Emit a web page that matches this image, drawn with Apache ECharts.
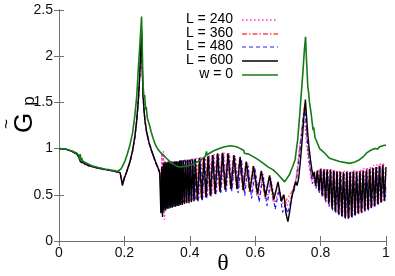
<!DOCTYPE html>
<html>
<head>
<meta charset="utf-8">
<script src="https://cdn.jsdelivr.net/npm/echarts@6/dist/echarts.min.js"></script>
<style>
  html, body { margin: 0; padding: 0; background: #fff; }
  #chart { width: 395px; height: 276px; }
</style>
</head>
<body>
<div id="chart"></div>
<script>
// G_p versus theta as [theta, G] pairs
const l240 = [[0,1.0],[0.02,0.993],[0.04,0.968],[0.055,0.935],[0.062,0.895],[0.065,0.855],[0.068,0.87],[0.072,0.84],[0.08,0.825],[0.09,0.81],[0.1,0.8],[0.12,0.785],[0.14,0.77],[0.16,0.758],[0.18,0.744],[0.187,0.736],[0.191,0.68],[0.194,0.63],[0.2,0.69],[0.208,0.765],[0.217,0.86],[0.225,0.98],[0.232,1.13],[0.238,1.32],[0.243,1.55],[0.247,1.8],[0.2505,2.1],[0.2525,2.2],[0.2545,1.87],[0.257,1.6],[0.26,1.43],[0.263,1.31],[0.268,1.18],[0.275,1.07],[0.282,0.99],[0.288,0.92],[0.295,0.86],[0.303,0.8],[0.309,0.76],[0.312,0.4],
  [0.3145,0.95],[0.317,0.3],[0.3195,0.97],[0.3225,0.23],[0.3255,0.86],[0.3285,0.34],[0.3315,0.86],[0.3345,0.35],[0.3375,0.86],[0.3405,0.36],[0.3435,0.86],[0.3465,0.37],[0.3495,0.86],[0.3525,0.37],[0.3555,0.86],[0.3585,0.38],[0.3615,0.86],[0.3645,0.39],[0.3675,0.87],[0.371,0.39],[0.3745,0.87],[0.378,0.4],[0.3815,0.88],[0.385,0.41],[0.3885,0.88],[0.392,0.42],[0.3955,0.88],[0.399,0.43],[0.403,0.89],[0.407,0.43],[0.411,0.89],[0.4155,0.44],[0.421,0.9],
  [0.4275,0.45],[0.434,0.91],[0.4405,0.46],[0.447,0.92],[0.4535,0.48],[0.46,0.93],[0.467,0.5],[0.474,0.94],[0.4815,0.52],[0.489,0.95],[0.4965,0.54],[0.504,0.96],[0.5125,0.56],[0.521,0.95],[0.53,0.57],[0.539,0.92],[0.5485,0.56],[0.558,0.88],[0.5675,0.53],[0.577,0.84],[0.588,0.5],[0.599,0.79],[0.611,0.47],[0.623,0.74],[0.6355,0.44],[0.648,0.68],[0.661,0.41],[0.673,0.58],[0.683,0.4],[0.69,0.45],[0.697,0.38],[0.703,0.44],[0.709,0.47],[0.715,0.52],[0.72,0.56],[0.725,0.68],[0.731,0.85],[0.737,1.05],[0.743,1.2],[0.749,1.3],[0.7525,1.25],[0.756,1.1],[0.76,0.95],[0.764,0.83],[0.768,0.74],[0.772,0.65],[0.776,0.74],[0.781,0.64],
  [0.7872,0.6],[0.7922,0.78],[0.7972,0.53],[0.8022,0.79],[0.8072,0.48],[0.8122,0.79],[0.8172,0.43],[0.8222,0.78],[0.8272,0.39],[0.8322,0.78],[0.8372,0.35],[0.8422,0.77],[0.8472,0.32],[0.8522,0.77],[0.8572,0.29],[0.8622,0.76],[0.8672,0.27],[0.8722,0.76],[0.8772,0.26],[0.8822,0.76],[0.8872,0.26],[0.8922,0.76],[0.8972,0.27],[0.9022,0.77],[0.9072,0.29],[0.9122,0.77],[0.9172,0.3],[0.9222,0.78],[0.9272,0.32],[0.9322,0.79],[0.9372,0.33],[0.9422,0.8],[0.9472,0.35],[0.9522,0.81],[0.9572,0.37],[0.9622,0.82],[0.9672,0.39],[0.9722,0.83],[0.9772,0.41],[0.9822,0.84],[0.9872,0.42],[0.9922,0.85],[0.9972,0.44],[1.0,0.55]];

const l360 = [[0,1.0],[0.02,0.995],[0.04,0.97],[0.055,0.94],[0.062,0.9],[0.065,0.86],[0.068,0.88],[0.072,0.85],[0.08,0.832],[0.09,0.817],[0.1,0.806],[0.12,0.789],[0.14,0.774],[0.16,0.761],[0.18,0.747],[0.187,0.739],[0.191,0.67],[0.194,0.61],[0.2,0.685],[0.208,0.76],[0.217,0.855],[0.225,0.975],[0.232,1.125],[0.238,1.31],[0.243,1.54],[0.247,1.79],[0.2505,2.09],[0.2525,2.26],[0.2545,1.89],[0.257,1.575],[0.26,1.41],[0.263,1.3],[0.268,1.175],[0.275,1.065],[0.282,0.985],[0.288,0.925],[0.295,0.855],[0.303,0.785],[0.31,0.71],
  [0.3135,0.34],[0.3165,0.8],[0.3195,0.31],[0.3225,0.84],[0.3255,0.35],[0.3285,0.85],[0.3315,0.36],[0.3345,0.86],[0.3375,0.36],[0.3405,0.85],[0.3435,0.37],[0.3465,0.86],[0.3495,0.38],[0.3525,0.86],[0.3555,0.38],[0.3585,0.86],[0.3615,0.39],[0.3645,0.87],[0.3675,0.4],[0.3705,0.87],[0.374,0.4],[0.3775,0.87],[0.381,0.41],[0.3845,0.88],[0.388,0.42],[0.3915,0.88],[0.395,0.43],[0.3985,0.88],[0.402,0.43],[0.406,0.89],[0.41,0.44],[0.415,0.89],
  [0.4215,0.45],[0.428,0.9],[0.4345,0.46],[0.441,0.91],[0.4475,0.48],[0.454,0.92],[0.461,0.5],[0.468,0.93],[0.4755,0.52],[0.483,0.94],[0.4905,0.54],[0.498,0.95],[0.5065,0.56],[0.515,0.95],[0.524,0.57],[0.533,0.93],[0.5425,0.57],[0.552,0.9],[0.5615,0.55],[0.571,0.86],[0.582,0.53],[0.593,0.81],[0.605,0.49],[0.617,0.75],[0.6295,0.46],[0.642,0.69],[0.655,0.43],[0.668,0.62],[0.679,0.44],[0.686,0.5],[0.692,0.42],[0.698,0.46],[0.704,0.44],[0.71,0.52],[0.716,0.56],[0.722,0.62],[0.727,0.72],[0.733,0.9],[0.739,1.1],[0.745,1.3],[0.751,1.48],[0.7545,1.35],[0.758,1.15],[0.762,0.98],[0.766,0.85],[0.77,0.76],[0.774,0.66],[0.779,0.73],
  [0.7838,0.59],[0.7888,0.76],[0.7938,0.54],[0.7988,0.78],[0.8038,0.48],[0.8088,0.78],[0.8138,0.44],[0.8188,0.78],[0.8238,0.4],[0.8288,0.77],[0.8338,0.36],[0.8388,0.77],[0.8438,0.32],[0.8488,0.76],[0.8538,0.3],[0.8588,0.76],[0.8638,0.28],[0.8688,0.75],[0.8738,0.26],[0.8788,0.75],[0.8838,0.25],[0.8888,0.75],[0.8938,0.26],[0.8988,0.76],[0.9038,0.28],[0.9088,0.76],[0.9138,0.29],[0.9188,0.76],[0.9238,0.31],[0.9288,0.77],[0.9338,0.32],[0.9388,0.78],[0.9438,0.34],[0.9488,0.79],[0.9538,0.36],[0.9588,0.8],[0.9638,0.37],[0.9688,0.81],[0.9738,0.39],[0.9788,0.82],[0.9838,0.41],[0.9888,0.83],[0.9938,0.43],[1.0,0.75]];

const l480 = [[0,1.0],[0.02,0.995],[0.04,0.97],[0.055,0.94],[0.062,0.9],[0.065,0.86],[0.068,0.88],[0.072,0.85],[0.08,0.83],[0.09,0.815],[0.1,0.805],[0.12,0.788],[0.14,0.773],[0.16,0.76],[0.18,0.746],[0.187,0.738],[0.191,0.67],[0.194,0.62],[0.2,0.69],[0.208,0.76],[0.217,0.85],[0.225,0.97],[0.232,1.12],[0.238,1.3],[0.243,1.53],[0.247,1.78],[0.2505,2.08],[0.2525,2.25],[0.2545,1.88],[0.257,1.57],[0.26,1.4],[0.263,1.29],[0.268,1.17],[0.275,1.06],[0.282,0.98],[0.288,0.92],[0.295,0.85],[0.303,0.78],[0.309,0.72],
  [0.313,0.32],[0.3155,0.78],[0.318,0.3],[0.3205,0.83],[0.323,0.35],[0.3255,0.84],[0.328,0.36],[0.3305,0.85],[0.333,0.37],[0.3355,0.85],[0.338,0.37],[0.3405,0.86],[0.343,0.38],[0.3455,0.85],[0.348,0.38],[0.3505,0.86],[0.353,0.39],[0.3555,0.86],[0.358,0.39],[0.3605,0.86],[0.363,0.4],[0.3655,0.87],[0.368,0.4],[0.371,0.87],[0.3745,0.41],[0.378,0.87],[0.3815,0.42],[0.385,0.88],[0.3885,0.42],[0.392,0.88],[0.396,0.43],[0.4,0.88],[0.4035,0.44],[0.407,0.89],[0.411,0.45],[0.415,0.89],[0.419,0.44],
  [0.4255,0.43],[0.432,0.89],[0.4385,0.44],[0.445,0.9],[0.4515,0.46],[0.458,0.91],[0.465,0.48],[0.472,0.92],[0.4795,0.5],[0.487,0.93],[0.4945,0.52],[0.502,0.94],[0.5105,0.53],[0.5195,0.93],[0.5285,0.54],[0.538,0.9],[0.548,0.52],[0.558,0.87],[0.568,0.49],[0.578,0.82],[0.589,0.46],[0.6,0.77],[0.612,0.42],[0.624,0.71],[0.636,0.38],[0.648,0.65],[0.661,0.34],[0.673,0.56],[0.684,0.31],[0.692,0.4],[0.698,0.3],[0.704,0.36],[0.71,0.45],[0.716,0.52],[0.722,0.58],[0.728,0.7],[0.734,0.88],[0.74,1.08],[0.746,1.3],[0.7515,1.45],[0.755,1.3],[0.759,1.1],[0.763,0.95],[0.767,0.82],[0.771,0.72],[0.775,0.62],[0.78,0.7],
  [0.7862,0.57],[0.7912,0.75],[0.7962,0.52],[0.8012,0.77],[0.8062,0.47],[0.8112,0.77],[0.8162,0.42],[0.8212,0.77],[0.8262,0.37],[0.8312,0.76],[0.8362,0.33],[0.8412,0.76],[0.8462,0.3],[0.8512,0.75],[0.8562,0.28],[0.8612,0.74],[0.8662,0.26],[0.8712,0.74],[0.8762,0.24],[0.8812,0.74],[0.8862,0.23],[0.8912,0.74],[0.8962,0.25],[0.9012,0.75],[0.9062,0.27],[0.9112,0.75],[0.9162,0.29],[0.9212,0.75],[0.9262,0.3],[0.9312,0.76],[0.9362,0.32],[0.9412,0.77],[0.9462,0.33],[0.9512,0.78],[0.9562,0.35],[0.9612,0.79],[0.9662,0.37],[0.9712,0.8],[0.9762,0.39],[0.9812,0.81],[0.9862,0.41],[0.9912,0.82],[0.9962,0.43],[1.0,0.62]];

const l600 = [[0,1.0],[0.02,0.995],[0.04,0.97],[0.055,0.94],[0.062,0.9],[0.065,0.86],[0.068,0.88],[0.072,0.85],[0.08,0.835],[0.09,0.82],[0.1,0.808],[0.12,0.79],[0.14,0.775],[0.16,0.762],[0.18,0.748],[0.187,0.74],[0.191,0.66],[0.194,0.6],[0.2,0.68],[0.208,0.76],[0.217,0.86],[0.225,0.98],[0.232,1.13],[0.238,1.32],[0.243,1.55],[0.247,1.8],[0.2505,2.1],[0.2525,2.28],[0.2545,1.9],[0.257,1.58],[0.26,1.42],[0.263,1.3],[0.268,1.18],[0.275,1.07],[0.282,0.99],[0.288,0.93],[0.295,0.86],[0.303,0.79],[0.308,0.74],
  [0.3115,0.3],[0.314,0.8],[0.3165,0.26],[0.319,0.84],[0.3215,0.33],[0.324,0.86],[0.3265,0.33],[0.329,0.85],[0.3315,0.35],[0.334,0.86],[0.3365,0.35],[0.339,0.85],[0.3415,0.36],[0.344,0.86],[0.3465,0.36],[0.349,0.85],[0.3515,0.37],[0.354,0.86],[0.3565,0.37],[0.359,0.86],[0.3615,0.38],[0.364,0.86],[0.3665,0.38],[0.369,0.87],[0.3715,0.39],[0.374,0.87],[0.377,0.39],[0.38,0.87],[0.3835,0.4],[0.387,0.87],[0.3905,0.41],[0.394,0.88],[0.3975,0.41],[0.401,0.88],[0.405,0.42],[0.409,0.88],[0.413,0.43],[0.417,0.89],
  [0.4235,0.44],[0.43,0.9],[0.4365,0.45],[0.443,0.91],[0.4495,0.47],[0.456,0.92],[0.463,0.49],[0.47,0.93],[0.4775,0.51],[0.485,0.95],[0.4925,0.53],[0.5,0.955],[0.5085,0.55],[0.517,0.95],[0.526,0.56],[0.535,0.93],[0.5445,0.56],[0.554,0.91],[0.5635,0.55],[0.573,0.86],[0.584,0.54],[0.595,0.81],[0.607,0.51],[0.619,0.76],[0.6315,0.48],[0.644,0.71],[0.657,0.45],[0.67,0.64],[0.68,0.43],[0.688,0.5],[0.694,0.3],[0.7,0.21],[0.706,0.33],[0.712,0.48],[0.716,0.53],[0.72,0.6],[0.724,0.64],[0.728,0.6],[0.733,0.68],[0.737,0.82],[0.741,0.98],[0.745,1.15],[0.749,1.35],[0.7535,1.53],[0.757,1.35],[0.761,1.15],[0.765,1.0],[0.769,0.88],[0.773,0.78],[0.777,0.7],[0.781,0.75],
  [0.785,0.6],[0.79,0.76],[0.795,0.55],[0.8,0.78],[0.805,0.5],[0.81,0.77],[0.815,0.45],[0.82,0.77],[0.825,0.4],[0.83,0.77],[0.835,0.35],[0.84,0.76],[0.845,0.32],[0.85,0.75],[0.855,0.29],[0.86,0.75],[0.865,0.27],[0.87,0.74],[0.875,0.25],[0.88,0.75],[0.885,0.24],[0.89,0.74],[0.895,0.26],[0.9,0.75],[0.905,0.28],[0.91,0.74],[0.915,0.3],[0.92,0.75],[0.925,0.31],[0.93,0.76],[0.935,0.33],[0.94,0.76],[0.945,0.34],[0.95,0.78],[0.955,0.36],[0.96,0.79],[0.965,0.38],[0.97,0.8],[0.975,0.4],[0.98,0.81],[0.985,0.42],[0.99,0.82],[0.995,0.44],[1.0,0.8]];

const w0 = [[0,1.0],[0.02,0.995],[0.04,0.975],[0.055,0.95],[0.061,0.925],[0.063,0.88],[0.065,0.94],[0.067,0.87],[0.069,0.9],[0.072,0.865],[0.08,0.85],[0.1,0.815],[0.12,0.795],[0.14,0.78],[0.16,0.767],[0.18,0.755],[0.186,0.75],[0.19,0.78],[0.2,0.85],[0.208,0.93],[0.217,1.04],[0.225,1.17],[0.232,1.36],[0.238,1.58],[0.242,1.83],[0.246,2.05],[0.2525,2.43],[0.255,2.02],[0.257,1.68],[0.26,1.55],[0.262,1.58],[0.265,1.42],[0.267,1.45],[0.27,1.33],[0.273,1.35],[0.277,1.25],[0.282,1.18],[0.288,1.11],[0.295,1.04],[0.303,0.99],[0.31,0.96],[0.319,0.93],[0.33,0.89],[0.345,0.84],[0.36,0.81],[0.37,0.8],[0.39,0.81],[0.415,0.84],[0.435,0.88],[0.448,0.92],[0.451,0.97],[0.453,0.93],[0.46,0.95],[0.475,0.98],[0.49,1.0],[0.507,1.02],[0.525,1.03],[0.543,1.02],[0.555,1.0],[0.565,0.98],[0.567,0.95],[0.57,0.96],[0.58,0.94],[0.595,0.91],[0.609,0.88],[0.625,0.84],[0.64,0.8],[0.655,0.77],[0.67,0.72],[0.68,0.68],[0.69,0.64],[0.695,0.63],[0.705,0.72],[0.716,0.82],[0.722,0.88],[0.73,1.1],[0.736,1.36],[0.741,1.6],[0.746,1.83],[0.75,2.05],[0.754,2.21],[0.757,1.95],[0.761,1.66],[0.763,1.62],[0.766,1.5],[0.768,1.52],[0.771,1.38],[0.773,1.4],[0.777,1.2],[0.779,1.23],[0.783,1.12],[0.785,1.14],[0.79,1.06],[0.792,1.08],[0.797,1.0],[0.8,1.01],[0.81,0.96],[0.827,0.895],[0.858,0.86],[0.889,0.84],[0.905,0.855],[0.919,0.88],[0.93,0.91],[0.94,0.95],[0.948,0.97],[0.951,0.955],[0.955,0.985],[0.96,0.99],[0.965,1.0],[0.97,1.01],[0.975,0.995],[0.98,1.02],[0.985,1.005],[0.99,1.03],[0.995,1.015],[1.0,1.04]];

const legendNames = ['L = 240', 'L = 360', 'L = 480', 'L = 600', 'w = 0'];
const xTicks = [0, 0.2, 0.4, 0.6, 0.8, 1];
const yTicks = [0, 0.5, 1, 1.5, 2, 2.5];

const colors = ['#ff33bb', '#ff4a4a', '#2020ff', '#000000', '#157a15'];
const dashes = [[1.5, 2.5], [5, 2, 1.5, 2], [4, 3], 'solid', 'solid'];
const widths = [1.5, 1.3, 1.2, 1.4, 1.6];
const allData = [l240, l360, l480, l600, w0];

const FONT = 'Liberation Sans';

let chart = echarts.init(document.getElementById('chart'));

let frameAxis = {
    axisLine: { show: true, lineStyle: { color: '#707070', width: 1 } },
    axisTick: { show: true, inside: true, length: 5, lineStyle: { color: '#707070' } },
    splitLine: { show: false }
};

let series = allData.map((d, i) => ({
    name: legendNames[i],
    type: 'line',
    data: d,
    symbol: 'none',
    lineStyle: { color: colors[i], width: widths[i], type: dashes[i] },
    z: 2 + i
}));

// legend drawn gnuplot style: text right aligned, sample line on the right
let legendGraphic = [];
let legendY = [20, 34, 47, 61, 75];
legendNames.forEach((n, i) => {
    legendGraphic.push({
        type: 'text', right: 395 - 233, top: legendY[i] - 8,
        style: { text: n, font: '14px ' + FONT, fill: '#000', textAlign: 'right' }
    });
    legendGraphic.push({
        type: 'line',
        shape: { x1: 242, y1: legendY[i], x2: 278, y2: legendY[i] },
        style: { stroke: colors[i], lineWidth: widths[i], lineDash: dashes[i] === 'solid' ? null : dashes[i] }
    });
});

let option = {
    animation: false,
    backgroundColor: '#fff',
    grid: { left: 59, right: 9, top: 10, bottom: 35 },
    xAxis: [
        Object.assign({
            type: 'value', min: 0, max: 1, interval: 0.2, position: 'bottom',
            axisLabel: {
                margin: 5, color: '#111', fontSize: 14, fontFamily: FONT,
                formatter: v => xTicks.indexOf(+v.toFixed(1)) >= 0 ? String(+v.toFixed(1)) : ''
            }
        }, frameAxis),
        Object.assign({
            type: 'value', min: 0, max: 1, interval: 0.2, position: 'top',
            axisLabel: { show: false }
        }, frameAxis)
    ],
    yAxis: [
        Object.assign({
            type: 'value', min: 0, max: 2.5, interval: 0.5, position: 'left',
            axisLabel: {
                margin: 6, color: '#111', fontSize: 14, fontFamily: FONT,
                formatter: v => String(yTicks[Math.round(v / 0.5)])
            }
        }, frameAxis),
        Object.assign({
            type: 'value', min: 0, max: 2.5, interval: 0.5, position: 'right',
            axisLabel: { show: false }
        }, frameAxis)
    ],
    graphic: [
        // y axis title: G with tilde and subscript p, rotated
        { type: 'text', x: 25, y: 123, rotation: Math.PI / 2,
          style: { text: 'G', font: '26px ' + FONT, fill: '#000', textAlign: 'center', textVerticalAlign: 'middle' } },
        { type: 'text', x: 7, y: 124, rotation: Math.PI / 2,
          style: { text: '~', font: '17px ' + FONT, fill: '#000', textAlign: 'center', textVerticalAlign: 'middle' } },
        { type: 'text', x: 29, y: 101, rotation: Math.PI / 2,
          style: { text: 'p', font: '17px ' + FONT, fill: '#000', textAlign: 'center', textVerticalAlign: 'middle' } },
        // x axis title
        { type: 'text', x: 223, y: 264,
          style: { text: 'θ', font: '24px "Liberation Serif"', fill: '#000', textAlign: 'center', textVerticalAlign: 'middle' } }
    ].concat(legendGraphic),
    series: series
};

chart.setOption(option);
</script>
</body>
</html>
